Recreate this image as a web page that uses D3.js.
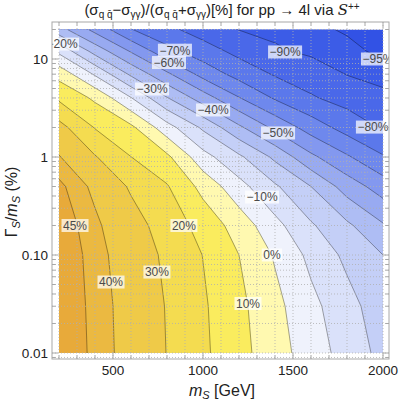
<!DOCTYPE html>
<html>
<head>
<meta charset="utf-8">
<script src="https://cdn.jsdelivr.net/npm/d3@7"></script>
<style>
body { margin: 0; background: #fff; }
svg { display: block; font-family: "Liberation Sans", Arial, sans-serif; }
</style>
</head>
<body>
<svg id="chart" width="399" height="401"></svg>
<script>
// grid of the asymmetry (in %), rows = width values, cols = masses
var massValues = [200, 400, 600, 800, 1000, 1200, 1400, 1600, 1800, 2000];
var widthValues = [0.01, 0.03, 0.1, 0.2, 0.5, 1, 2, 4, 7, 12, 20];
var asymmetryRows = [
  [50.0, 43.6, 36.9, 29.8, 21.8, 13.2, 4.3, -4.9, -14.0, -23.0],
  [49.8, 43.3, 36.7, 29.5, 21.3, 12.4, 2.8, -7.2, -16.5, -25.5],
  [49.6, 42.6, 35.6, 28.2, 19.8, 10.0, -1.0, -12.6, -22.3, -30.0],
  [48.8, 41.4, 33.9, 25.8, 16.4, 5.7, -6.9, -18.8, -28.1, -39.0],
  [46.5, 38.3, 28.8, 20.8, 6.9, -6.5, -18.6, -30.0, -44.5, -54.8],
  [40.5, 30.7, 20.1, 12.1, -6.3, -18.1, -32.1, -47.8, -58.7, -69.1],
  [33.5, 19.5, 12.2, -5.9, -21.7, -38.1, -52.4, -64.4, -74.1, -81.0],
  [18.3, 8.3, -9.5, -29.4, -45.0, -59.5, -71.1, -79.0, -83.5, -87.5],
  [6.6, -11.2, -31.8, -48.1, -63.4, -73.7, -80.9, -84.6, -90.3, -93.2],
  [-12.2, -33.7, -50.9, -66.9, -75.5, -82.8, -88.7, -91.7, -93.8, -96.0],
  [-36.0, -53.1, -69.6, -77.6, -84.4, -90.2, -92.1, -94.0, -95.5, -96.5]
];
var contourLevels = [-95, -90, -80, -70, -60, -50, -40, -30, -20, -10, 0, 10, 20, 30, 40, 45];

// contour labels: level, mass, width
var labelLevels = [-20, -70, -60, -90, -95, -30, -40, -50, -80, -10, 0, 20, 45, 30, 40, 10];
var labelMass = [217, 844, 811, 1456, 1972, 717, 1056, 1417, 1944, 1328, 1383, 894, 289, 744, 489, 1250];
var labelWidth = [14.2, 12.3, 9.2, 11.8, 10.0, 4.94, 3.02, 1.76, 2.02, 0.39, 0.1, 0.2, 0.2, 0.067, 0.053, 0.032];

var massTicks = [500, 1000, 1500, 2000];
var widthTicks = [0.01, 0.1, 1, 10];
var widthTickLabels = ["0.01", "0.10", "1", "10"];

var bandColors = [
  "#3252e5", "#3c5ce7", "#4a68e9", "#5b78eb", "#6e88ed", "#8398ef",
  "#98aaf1", "#aebdf4", "#c4cff7", "#dae1fa", "#eff2fc",
  "#fff9b0", "#faec5e", "#f4dc50", "#efca48", "#ebb941", "#e8aa3a"
];

var svg = d3.select("#chart");
var frame = {left: 52, right: 389, top: 22, bottom: 359};
var x = d3.scaleLinear().domain([200, 2000]).range([59, 383]);
var y = d3.scaleLog().domain([0.01, 20]).range([353, 29.5]);

var defs = svg.append("defs");
defs.append("clipPath").attr("id", "dataClip").append("rect")
  .attr("x", x(200)).attr("y", y(20))
  .attr("width", x(2000) - x(200)).attr("height", y(0.01) - y(20));
defs.append("clipPath").attr("id", "frameClip").append("rect")
  .attr("x", frame.left).attr("y", frame.top)
  .attr("width", frame.right - frame.left).attr("height", frame.bottom - frame.top);

// contours
var nx = massValues.length, ny = widthValues.length;
var values = [];
asymmetryRows.forEach(function(row) { row.forEach(function(v) { values.push(v); }); });
var idxToMass = d3.scaleLinear().domain(d3.range(nx)).range(massValues);
var idxToLogW = d3.scaleLinear().domain(d3.range(ny)).range(widthValues.map(function(w) { return Math.log10(w); }));
var proj = d3.geoTransform({
  point: function(px, py) {
    this.stream.point(x(idxToMass(px - 0.5)), y(Math.pow(10, idxToLogW(py - 0.5))));
  }
});
var path = d3.geoPath(proj);
var bands = d3.contours().size([nx, ny]).thresholds(contourLevels)(values);

var plot = svg.append("g").attr("clip-path", "url(#dataClip)");
plot.append("rect")
  .attr("x", x(200)).attr("y", y(20))
  .attr("width", x(2000) - x(200)).attr("height", y(0.01) - y(20))
  .attr("fill", bandColors[0]);
plot.selectAll("path.band").data(bands).enter().append("path")
  .attr("class", "band")
  .attr("d", path)
  .attr("fill", function(d, i) { return bandColors[i + 1]; })
  .attr("stroke", function(d, i) { return bandColors[i + 1]; })
  .attr("stroke-width", 0.3);
plot.selectAll("path.line").data(bands).enter().append("path")
  .attr("class", "line")
  .attr("d", path)
  .attr("fill", "none")
  .attr("stroke", "rgba(0,0,0,0.5)")
  .attr("stroke-width", 0.7);

// grid lines
var grid = svg.append("g").attr("clip-path", "url(#frameClip)");
var massGrid = d3.range(200, 2001, 100);
var widthGrid = [];
[0.001, 0.01, 0.1, 1, 10].forEach(function(dec) {
  for (var k = 1; k < 10; k++) { widthGrid.push(dec * k); }
});
widthGrid = widthGrid.filter(function(w) { return y(w) > frame.top && y(w) < frame.bottom; });
var gridColor = "rgba(175,175,175,0.8)";
grid.selectAll("line.vg").data(massGrid).enter().append("line")
  .attr("x1", function(d) { return x(d); }).attr("x2", function(d) { return x(d); })
  .attr("y1", frame.top).attr("y2", frame.bottom)
  .attr("stroke", gridColor).attr("stroke-width", 1)
  .attr("stroke-dasharray", "1,2");
grid.selectAll("line.hg").data(widthGrid).enter().append("line")
  .attr("y1", function(d) { return y(d); }).attr("y2", function(d) { return y(d); })
  .attr("x1", frame.left).attr("x2", frame.right)
  .attr("stroke", gridColor).attr("stroke-width", 1)
  .attr("stroke-dasharray", "1,2");

// contour labels
var labels = svg.append("g").attr("clip-path", "url(#frameClip)");
labelLevels.forEach(function(lv, i) {
  var g = labels.append("g")
    .attr("transform", "translate(" + x(labelMass[i]) + "," + y(labelWidth[i]) + ")");
  var box = g.append("rect").attr("fill", "rgba(255,255,255,0.72)");
  var t = g.append("text")
    .attr("text-anchor", "middle").attr("dy", "0.36em")
    .attr("font-size", 12).attr("fill", "#4a4a4a")
    .text((lv < 0 ? "\u2212" + (-lv) : lv) + "%");
  var w = t.node().getComputedTextLength();
  box.attr("x", -w / 2 - 1.5).attr("y", -6.5).attr("width", w + 3).attr("height", 13);
});

// frame and ticks
var axisColor = "#a8a8a8";
svg.append("rect")
  .attr("x", frame.left).attr("y", frame.top)
  .attr("width", frame.right - frame.left).attr("height", frame.bottom - frame.top)
  .attr("fill", "none").attr("stroke", axisColor).attr("stroke-width", 1);
var ticks = svg.append("g").attr("stroke", axisColor).attr("stroke-width", 1);
massGrid.forEach(function(m) {
  var len = massTicks.indexOf(m) >= 0 ? 6 : 3.5;
  ticks.append("line").attr("x1", x(m)).attr("x2", x(m))
    .attr("y1", frame.bottom).attr("y2", frame.bottom - len);
  ticks.append("line").attr("x1", x(m)).attr("x2", x(m))
    .attr("y1", frame.top).attr("y2", frame.top + len);
});
widthGrid.forEach(function(w) {
  var major = widthTicks.some(function(t) { return Math.abs(t - w) < 1e-9; });
  var len = major ? 6 : 3.5;
  ticks.append("line").attr("y1", y(w)).attr("y2", y(w))
    .attr("x1", frame.left).attr("x2", frame.left + len);
  ticks.append("line").attr("y1", y(w)).attr("y2", y(w))
    .attr("x1", frame.right).attr("x2", frame.right - len);
});

svg.selectAll("text.xt").data(massTicks).enter().append("text")
  .attr("x", function(d) { return x(d); }).attr("y", frame.bottom + 16)
  .attr("text-anchor", "middle").attr("font-size", 13.5).attr("fill", "#222")
  .text(function(d) { return d; });
svg.selectAll("text.yt").data(widthTicks).enter().append("text")
  .attr("x", frame.left - 4).attr("y", function(d) { return y(d); })
  .attr("dy", "0.36em")
  .attr("text-anchor", "end").attr("font-size", 13.5).attr("fill", "#222")
  .text(function(d, i) { return widthTickLabels[i]; });

// axis titles
var xt = svg.append("text").attr("x", 222).attr("y", 396)
  .attr("text-anchor", "middle").attr("font-size", 16).attr("fill", "#222");
xt.append("tspan").attr("font-style", "italic").text("m");
xt.append("tspan").attr("font-style", "italic").attr("font-size", 11).attr("dy", 3).text("S");
xt.append("tspan").attr("dy", -3).text(" [GeV]");

var yt = svg.append("text")
  .attr("transform", "translate(17," + 202 + ") rotate(-90)")
  .attr("text-anchor", "middle").attr("font-size", 16).attr("fill", "#222");
yt.append("tspan").text("\u0393");
yt.append("tspan").attr("font-style", "italic").attr("font-size", 11).attr("dy", 3).text("S");
yt.append("tspan").attr("dy", -3).text("/");
yt.append("tspan").attr("font-style", "italic").text("m");
yt.append("tspan").attr("font-style", "italic").attr("font-size", 11).attr("dy", 3).text("S");
yt.append("tspan").attr("dy", -3).text(" (%)");

// title
var title = svg.append("text").attr("x", 222).attr("y", 15)
  .attr("text-anchor", "middle").attr("font-size", 15).attr("fill", "#222");
function sub(s) { title.append("tspan").attr("font-size", 10).attr("dy", 3).text(s); }
function normal(s) { title.append("tspan").attr("dy", -3).text(s); }
title.append("tspan").text("(\u03c3");
sub("q q\u0304");
normal("\u2212\u03c3");
sub("\u03b3\u03b3");
normal(")/(\u03c3");
sub("q q\u0304");
normal("+\u03c3");
sub("\u03b3\u03b3");
normal(")[%] for pp \u2192 4l via ");
title.append("tspan").attr("font-family", "DejaVu Serif").attr("font-style", "italic").text("S");
title.append("tspan").attr("font-size", 10).attr("dy", -5).text("++");
</script>
</body>
</html>
